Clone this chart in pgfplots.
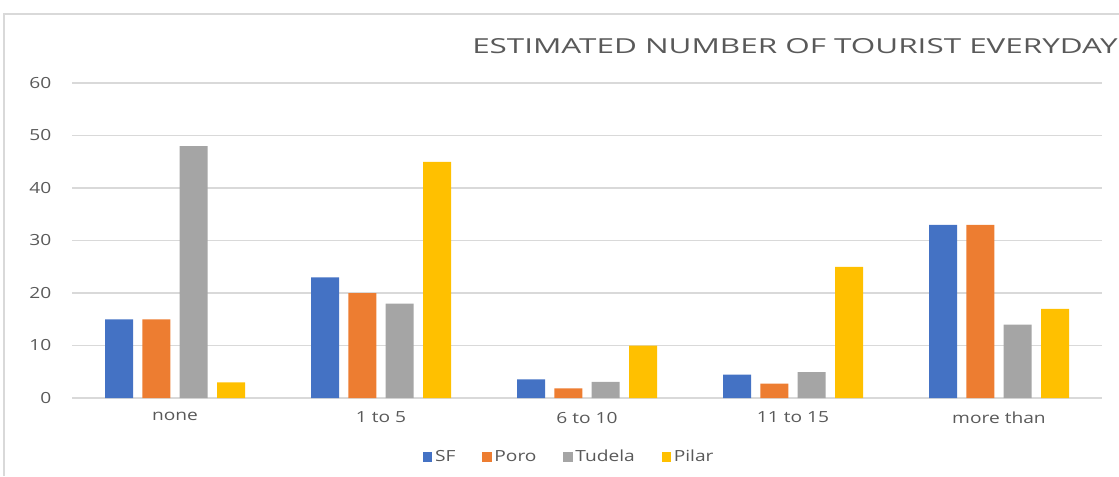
\documentclass[border=0pt]{standalone}
\usepackage{pgfplots}
\pgfplotsset{compat=1.18}
\usepackage{fontspec}
\setmainfont{Open Sans}
\definecolor{cSF}{HTML}{4472C4}
\definecolor{cPoro}{HTML}{ED7D31}
\definecolor{cTud}{HTML}{A5A5A5}
\definecolor{cPil}{HTML}{FFC000}
\definecolor{txt}{HTML}{595959}
\definecolor{grd}{HTML}{D9D9D9}
\newcommand{\sx}[1]{\scalebox{1.25}[1]{#1}}
\begin{document}
\begin{tikzpicture}
\begin{axis}[
  scale only axis, width=772.5pt, height=236.25pt,
  xmin=-0.5, xmax=4.5, ymin=0, ymax=60,
  ybar=7pt, bar width=21pt,
  axis line style={draw=none},
  ymajorgrids, grid style={grd, line width=0.9pt},
  ytick={0,10,...,60},
  xtick={0,1,2,3,4},
  xticklabels={\sx{none},\sx{1 to 5},\sx{6 to 10},\sx{11 to 15},\sx{more than}},
  yticklabel={\sx{\pgfmathprintnumber{\tick}}},
  major tick length=0pt,
  tick label style={text=txt, font=\fontsize{11.5}{13}\selectfont},
  /pgf/number format/assume math mode=true,
  yticklabel style={xshift=-12pt},
  xticklabel style={yshift=-7pt},
  legend style={at={(0.483,-0.187)}, anchor=center, draw=none, legend columns=4,
    font=\fontsize{11.5}{13}\selectfont, text=txt,
    /tikz/every even column/.append style={column sep=18pt},
    /tikz/every odd column/.append style={column sep=0pt}},
  legend image code/.code={\fill[#1] (0pt,-3.6pt) rectangle (7.2pt,3.6pt);},
  clip=false,
]
\addplot[fill=cSF, draw=none] coordinates {(0,15) (1,23) (2,3.55) (3,4.45) (4,33)};
\addplot[fill=cPoro, draw=none] coordinates {(0,15) (1,20) (2,1.85) (3,2.75) (4,33)};
\addplot[fill=cTud, draw=none] coordinates {(0,48) (1,18) (2,3.05) (3,4.95) (4,14)};
\addplot[fill=cPil, draw=none] coordinates {(0,3) (1,45) (2,10) (3,25) (4,17)};
\legend{\sx{SF},\sx{Poro},\sx{Tudela},\sx{Pilar}}
\end{axis}
\begin{scope}[x=0.75pt,y=0.75pt]
\useasboundingbox (-72,-78) rectangle (1047,398);
\draw[grd, line width=1.5pt] (-67.5,-78) -- (-67.5,384.5) -- (1047,384.5);
\node[anchor=base west, text=txt, inner sep=0pt] at (400,345) {\scalebox{1.52}[1]{\fontsize{15.5}{18}\selectfont ESTIMATED NUMBER OF TOURIST EVERYDAY}};
\end{scope}
\end{tikzpicture}
\end{document}
